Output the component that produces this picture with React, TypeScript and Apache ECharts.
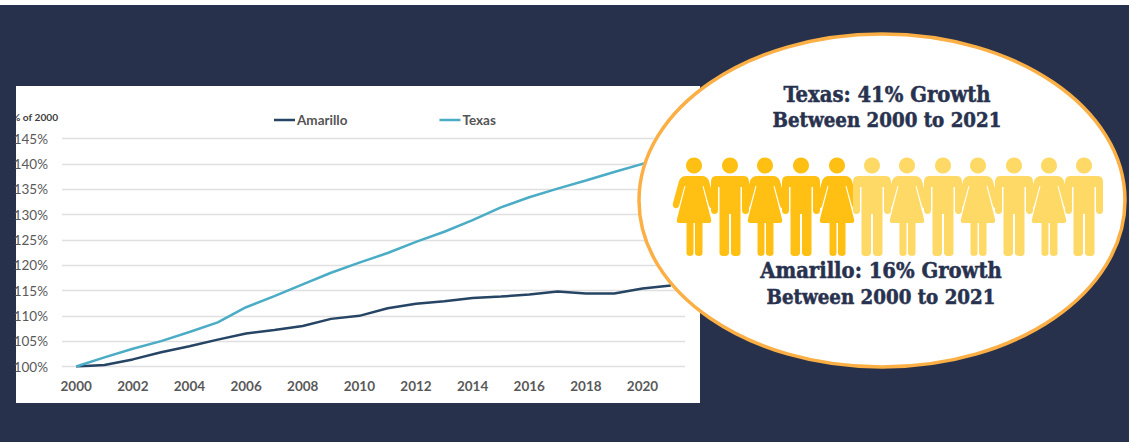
import React, { useEffect, useRef } from "react";
import * as echarts from "echarts";

const years = ["2000","2001","2002","2003","2004","2005","2006","2007","2008","2009","2010","2011","2012","2013","2014","2015","2016","2017","2018","2019","2020","2021"];
const amarillo = [100,100.3,101.4,102.8,104,105.3,106.5,107.2,108,109.4,110,111.5,112.4,112.9,113.5,113.8,114.2,114.8,114.4,114.4,115.4,116];
const texas = [100,101.8,103.5,105,106.8,108.7,111.7,113.9,116.2,118.5,120.5,122.4,124.6,126.6,128.9,131.4,133.4,135.1,136.7,138.4,140,141];
const headX = [694,730,765,801,837,872,907,943,978,1014,1049,1084];
const highlightedPeople = 5;

const NAVY = "#27314b";
const WOMAN = "M-8 0L8 0Q13 0 15 5L21 27Q22 31 19 32Q16 33 15 30L9.5 10L8.5 10L17 43Q18 47 15 47L8.5 47L8.5 77Q8.5 80 5 80Q1 80 1 77L1 47L-0.5 47L-0.5 77Q-0.5 80 -4 80Q-7.5 80 -7.5 77L-7.5 47L-15 47Q-18 47 -17 43L-8.5 10L-9.5 10L-15 30Q-16 33 -19 32Q-22 31 -21 27L-15 5Q-13 0 -8 0Z";
const MAN = "M-14 0L14 0Q19 0 19 6L19 34Q19 38 15.5 38Q12 38 12 34L12 11L10.5 11L10.5 77Q10.5 80 6 80Q1 80 1 77L1 38L-1 38L-1 77Q-1 80 -6 80Q-10.5 80 -10.5 77L-10.5 11L-12 11L-12 34Q-12 38 -15.5 38Q-19 38 -19 34L-19 6Q-19 0 -14 0Z";

echarts.graphic.registerShape("woman", echarts.graphic.extendPath(WOMAN, {}));
echarts.graphic.registerShape("man", echarts.graphic.extendPath(MAN, {}));

const slabText = (text: string, x: number, y: number, size: number) => ({
  type: "text", x, y, z: 30,
  style: { text, fill: "#28324f", stroke: "#28324f", lineWidth: 0.5, align: "center", verticalAlign: "middle",
    font: `bold ${size}px "DejaVu Serif Condensed", "DejaVu Serif"` },
});

export default function App() {
  const ref = useRef<HTMLDivElement>(null);
  useEffect(() => {
    const chart = echarts.init(ref.current!, null, { renderer: "svg" });
    const people: any[] = [];
    headX.forEach((x, i) => {
      const fill = i < highlightedPeople ? "#ffc013" : "#ffd966";
      people.push({ type: "circle", z: 20, shape: { cx: x, cy: 165.5, r: 8 }, style: { fill } });
      people.push({ type: i % 2 === 0 ? "woman" : "man", x, y: 176, z: 20, style: { fill } });
    });
    chart.setOption({
      animation: false,
      backgroundColor: NAVY,
      grid: { left: 62, top: 138.5, width: 623, height: 228, containLabel: false },
      legend: {
        left: 269, top: 108, itemWidth: 21, itemHeight: 2.5, itemGap: 92,
        icon: "rect",
        textStyle: { fontFamily: "Lato", fontWeight: "bold", fontSize: 13.5, color: "#555", padding: [0, 0, 0, -3] },
        data: ["Amarillo", "Texas"],
      },
      xAxis: {
        type: "category", data: years, boundaryGap: true,
        axisLine: { show: false }, axisTick: { show: false },
        axisLabel: { interval: 1, margin: 12, fontFamily: "Lato", fontWeight: "bold", fontSize: 13.5, color: "#595959" },
      },
      yAxis: {
        type: "value", min: 100, max: 145, interval: 5,
        axisLine: { show: false }, axisTick: { show: false },
        axisLabel: { margin: 14, fontFamily: "Lato", fontSize: 13.5, color: "#595959", formatter: "{value}%" },
        splitLine: { lineStyle: { color: "#e0e0e0", width: 1.3 } },
      },
      series: [
        { name: "Amarillo", type: "line", data: amarillo, showSymbol: false, symbol: "none", itemStyle: { color: "#264463" }, lineStyle: { color: "#264463", width: 2.5 }, z: 3 },
        { name: "Texas", type: "line", data: texas, showSymbol: false, symbol: "none", itemStyle: { color: "#4bacc6" }, lineStyle: { color: "#4bacc6", width: 2.5 }, z: 3 },
      ],
      graphic: { elements: [
        { type: "rect", z: -1, shape: { x: 0, y: 0, width: 1129, height: 5 }, style: { fill: "#ffffff" } },
        { type: "rect", z: -1, shape: { x: 16, y: 86, width: 684, height: 317 }, style: { fill: "#ffffff" } },
        { type: "text", x: 12, y: 117, z: 5, style: { text: "% of 2000", fill: "#404040", verticalAlign: "middle", font: 'bold 10.2px Lato' } },
        { type: "rect", z: 6, shape: { x: 0, y: 108, width: 16, height: 20 }, style: { fill: NAVY } },
        { type: "ellipse", z: 10, shape: { cx: 882, cy: 200.5, rx: 243, ry: 166.5 }, style: { fill: "#ffffff", stroke: "#fbaf45", lineWidth: 3.5 } },
        ...people,
        slabText("Texas: 41% Growth", 887, 94, 21.8),
        slabText("Between 2000 to 2021", 887, 120, 20.3),
        slabText("Amarillo: 16% Growth", 881, 270, 21.8),
        slabText("Between 2000 to 2021", 881, 297, 20.3),
      ] },
    });
    return () => chart.dispose();
  }, []);
  return <div ref={ref} style={{ position: "fixed", left: 0, top: 0, width: 1129, height: 442 }} />;
}
